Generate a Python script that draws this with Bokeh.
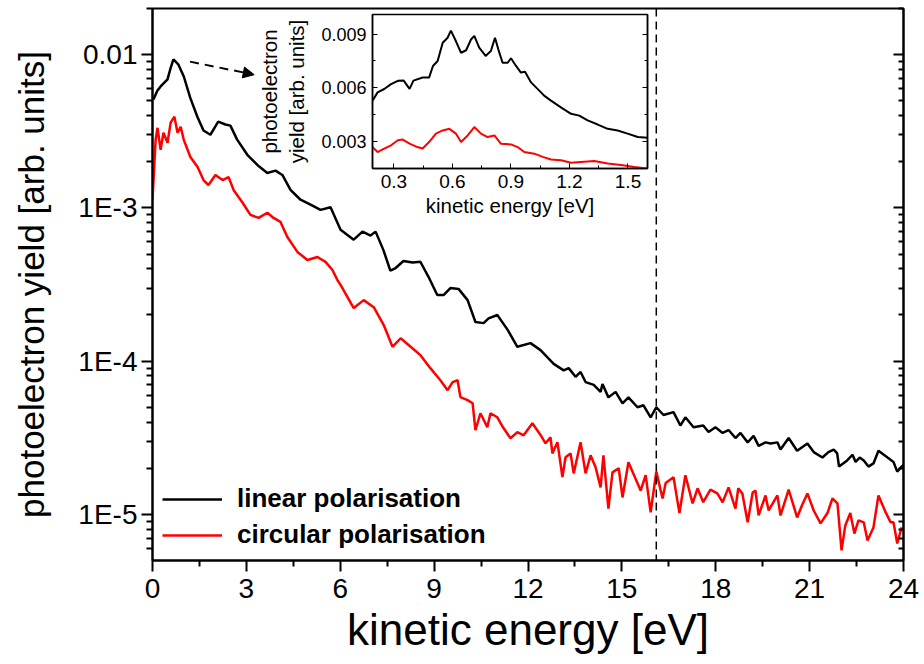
from bokeh.plotting import figure
from bokeh.models import (FixedTicker, LogAxis, LinearAxis, Span, Arrow, NormalHead,
                          CustomJSTickFormatter)
from bokeh.embed import file_html
from bokeh.resources import INLINE

# ---------------- data ----------------
LIN_X = [0.03, 0.15, 0.26, 0.48, 0.58, 0.67, 0.83, 1.0, 1.21, 1.44, 1.63, 1.85, 2.01, 2.1,
         2.33, 2.49, 2.7, 3.03, 3.36, 3.67, 3.93, 4.15, 4.41, 4.73, 5.05, 5.37, 5.69, 5.91,
         6.01, 6.43, 6.71, 6.97, 7.13, 7.38, 7.6, 7.77, 8.02, 8.31, 8.56, 8.82, 9.1, 9.3,
         9.52, 9.78, 10.07, 10.32, 10.58, 10.74, 11.02, 11.35, 11.66, 12.08, 12.4, 12.82,
         13.14, 13.3, 13.52, 13.68, 13.84, 14.1, 14.32, 14.38, 14.57, 14.8, 15.02, 15.21,
         15.5, 15.69, 15.92, 16.1, 16.33, 16.65, 16.87, 17.03, 17.29, 17.6, 17.77, 17.99,
         18.22, 18.41, 18.63, 18.79, 19.02, 19.21, 19.37, 19.59, 19.75, 19.97, 20.07, 20.33,
         20.6, 20.93, 21.13, 21.41, 21.6, 21.77, 21.88, 21.94, 22.2, 22.37, 22.47, 22.6,
         22.73, 22.88, 23.04, 23.2, 23.49, 23.68, 23.8, 23.94, 24.0]
LIN_Y = [5.1e-3, 5.8e-3, 6.2e-3, 6.9e-3, 8.2e-3, 9.3e-3, 8.6e-3, 7.2e-3, 5.2e-3, 3.9e-3,
         3.2e-3, 3.0e-3, 3.4e-3, 3.65e-3, 3.5e-3, 3.44e-3, 2.8e-3, 2.22e-3, 1.9e-3, 1.69e-3,
         1.75e-3, 1.64e-3, 1.31e-3, 1.13e-3, 1.05e-3, 9.7e-4, 1.01e-3, 8.0e-4,
         7.2e-4, 6.2e-4, 7.0e-4, 6.6e-4, 7.0e-4, 5.3e-4, 3.9e-4, 4.05e-4, 4.5e-4, 4.4e-4,
         4.45e-4, 3.55e-4, 2.7e-4, 2.7e-4, 3.0e-4, 2.96e-4, 2.5e-4, 1.8e-4, 1.77e-4,
         1.9e-4, 2.0e-4, 1.6e-4, 1.24e-4, 1.31e-4, 1.18e-4, 9.6e-5,
         8.7e-5, 9.0e-5, 7.9e-5, 8.5e-5, 7.3e-5, 7.0e-5, 6.3e-5, 7.1e-5, 5.8e-5, 6.3e-5,
         5.3e-5, 5.8e-5, 5.0e-5, 5.15e-5, 4.3e-5, 5.0e-5, 4.45e-5, 4.65e-5, 3.8e-5, 4.3e-5,
         3.7e-5, 3.8e-5, 3.45e-5, 3.7e-5, 3.4e-5, 3.55e-5, 3.15e-5, 3.4e-5, 2.95e-5, 3.25e-5,
         2.8e-5, 2.95e-5, 2.9e-5, 2.95e-5, 2.65e-5, 3.15e-5, 2.6e-5, 2.9e-5, 2.55e-5,
         2.35e-5, 2.55e-5, 2.65e-5, 2.5e-5, 2.05e-5, 2.25e-5, 2.45e-5, 2.2e-5, 2.35e-5,
         2.25e-5, 2.05e-5, 2.15e-5, 2.6e-5, 2.35e-5, 2.2e-5, 1.9e-5, 2.05e-5, 2.1e-5]

CIRC_X = [0.0, 0.1, 0.16, 0.26, 0.35, 0.48, 0.58, 0.7, 0.8, 0.9, 1.0, 1.21, 1.44, 1.63,
          1.79, 2.01, 2.24, 2.43, 2.59, 2.88, 3.13, 3.39, 3.67, 3.87, 4.09, 4.31, 4.63, 4.95,
          5.27, 5.53, 5.75, 5.91, 6.01, 6.43, 6.75, 7.07, 7.39, 7.67, 7.93, 8.25, 8.57, 8.88,
          9.2, 9.43, 9.59, 9.75, 9.84, 10.07, 10.23, 10.32, 10.48, 10.7, 10.8, 11.02, 11.2,
          11.44, 11.66, 11.86, 12.14, 12.4, 12.56, 12.72, 12.78, 12.94, 13.1, 13.2, 13.36,
          13.46, 13.68, 13.84, 14.0, 14.16, 14.32, 14.41, 14.57, 14.7, 14.9, 15.02, 15.21,
          15.43, 15.6, 15.76, 15.92, 16.1, 16.3, 16.4, 16.65, 16.84, 17.03, 17.26, 17.42,
          17.6, 17.83, 18.05, 18.22, 18.41, 18.63, 18.72, 18.85, 19.02, 19.18, 19.27, 19.37,
          19.59, 19.69, 19.97, 20.07, 20.33, 20.6, 20.76, 20.93, 21.13, 21.35, 21.57, 21.73,
          21.89, 22.02, 22.14, 22.3, 22.43, 22.56, 22.73, 22.85, 23.04, 23.2, 23.43, 23.59,
          23.68, 23.8, 23.94]
CIRC_Y = [1.13e-3, 2.78e-3, 3.33e-3, 2.39e-3, 3.09e-3, 2.66e-3, 3.6e-3, 3.94e-3, 3.09e-3,
          3.38e-3, 2.78e-3, 2.15e-3, 1.85e-3, 1.52e-3, 1.41e-3, 1.64e-3, 1.52e-3, 1.59e-3,
          1.31e-3, 1.08e-3, 9.0e-4, 8.6e-4, 9.3e-4, 8.6e-4, 8.1e-4, 6.46e-4, 5.16e-4, 4.57e-4,
          4.78e-4, 4.44e-4, 3.93e-4, 3.38e-4, 3.14e-4, 2.22e-4, 2.5e-4, 2.25e-4, 1.72e-4,
          1.24e-4, 1.41e-4, 1.24e-4, 1.09e-4, 9.0e-5, 7.5e-5, 6.46e-5, 7.3e-5, 7.5e-5, 5.82e-5,
          5.56e-5, 5.31e-5, 3.54e-5, 4.57e-5, 3.7e-5, 4.57e-5, 4.3e-5, 3.7e-5, 3.14e-5,
          3.44e-5, 3.28e-5, 3.93e-5, 3.3e-5, 2.91e-5, 3.18e-5, 2.5e-5, 2.96e-5, 1.75e-5,
          2.36e-5, 2.5e-5, 1.85e-5, 2.96e-5, 1.85e-5, 2.43e-5, 2.03e-5, 1.5e-5, 2.43e-5,
          1.09e-5, 1.88e-5, 2.0e-5, 1.29e-5, 2.19e-5, 1.72e-5, 1.43e-5, 1.8e-5, 1.03e-5,
          1.9e-5, 1.27e-5, 1.6e-5, 1.75e-5, 1.02e-5, 1.8e-5, 1.18e-5, 1.48e-5, 1.2e-5,
          1.45e-5, 1.37e-5, 1.2e-5, 1.5e-5, 1.09e-5, 1.48e-5, 1.37e-5, 8.87e-6, 1.39e-5,
          1.43e-5, 9.84e-6, 1.33e-5, 1.06e-5, 1.33e-5, 9.84e-6, 1.45e-5, 9.55e-6, 1.15e-5,
          1.37e-5, 1.06e-5, 8.73e-6, 1.02e-5, 1.27e-5, 1.18e-5, 5.82e-6, 8.47e-6, 1.02e-5,
          7.5e-6, 9.14e-6, 8.87e-6, 6.76e-6, 8.22e-6, 1.33e-5, 1.03e-5, 8.87e-6, 8.87e-6,
          6.46e-6, 8.22e-6]

INS_X = [0.19, 0.216, 0.25, 0.285, 0.32, 0.35, 0.38, 0.40, 0.447, 0.48, 0.5, 0.524, 0.55,
         0.575, 0.592, 0.618, 0.644, 0.67, 0.695, 0.712, 0.737, 0.77, 0.797, 0.818, 0.835,
         0.857, 0.883, 0.9, 0.926, 0.951, 0.972, 1.003, 1.054, 1.07, 1.105, 1.156, 1.208,
         1.25, 1.293, 1.345, 1.396, 1.447, 1.498, 1.55, 1.6]
INS_LIN = [0.00528, 0.00574, 0.00593, 0.0062, 0.00639, 0.0064, 0.00594, 0.0064, 0.00657,
           0.00657, 0.00722, 0.0075, 0.00852, 0.0088, 0.0092, 0.0086, 0.00796, 0.0081,
           0.0087, 0.0089, 0.00824, 0.00778, 0.00806, 0.0088, 0.00815, 0.0074, 0.0074,
           0.00765, 0.00722, 0.00685, 0.00689, 0.0063, 0.00574, 0.00556, 0.00528, 0.0049,
           0.00454, 0.00444, 0.00417, 0.00394, 0.0037, 0.00361, 0.00343, 0.00324, 0.0032]
INS_CX = [0.19, 0.216, 0.25, 0.285, 0.32, 0.345, 0.38, 0.42, 0.447, 0.48, 0.515, 0.55,
          0.584, 0.618, 0.644, 0.678, 0.712, 0.746, 0.78, 0.815, 0.848, 0.9, 0.934, 0.968,
          1.02, 1.063, 1.105, 1.156, 1.208, 1.259, 1.327, 1.396, 1.464, 1.532, 1.6]
INS_CIRC = [0.00268, 0.0024, 0.00259, 0.00278, 0.00306, 0.0031, 0.00287, 0.00268, 0.0026,
            0.00296, 0.00343, 0.00361, 0.0037, 0.00343, 0.00296, 0.00333, 0.0038, 0.00343,
            0.00324, 0.00333, 0.00287, 0.00283, 0.00268, 0.0024, 0.00231, 0.00213, 0.00198,
            0.00194, 0.0018, 0.00185, 0.0019, 0.00176, 0.00167, 0.00157, 0.00148]

SERIES_NAMES = ["linear polarisation", "circular polarisation"]

Y_TICKS = [1e-5, 1e-4, 1e-3, 1e-2]
Y_TICK_LABELS = ["1E-5", "1E-4", "1E-3", "0.01"]
Y_MINOR = [m * d for d in [1e-6, 1e-5, 1e-4, 1e-3, 1e-2] for m in range(2, 10)]
X_TICKS = [0, 3, 6, 9, 12, 15, 18, 21, 24]
X_MINOR = [1.5, 4.5, 7.5, 10.5, 13.5, 16.5, 19.5, 22.5]

INS_X_TICKS = [0.3, 0.6, 0.9, 1.2, 1.5]
INS_X_LABELS = ["0.3", "0.6", "0.9", "1.2", "1.5"]
INS_X_MINOR = [0.15, 0.45, 0.75, 1.05, 1.35]
INS_Y_TICKS = [0.003, 0.006, 0.009]
INS_Y_LABELS = ["0.003", "0.006", "0.009"]
INS_Y_MINOR = [0.0015, 0.0045, 0.0075]

CUTOFF_EV = 16.1
ARROW_START = (1.2, 9.0e-3)
ARROW_END = (3.25, 7.4e-3)

FONT = "Liberation Sans"

NEAREST_LOG = """
let best = 0;
for (let i = 1; i < tk.length; i++) {
  if (Math.abs(Math.log(tk[i]) - Math.log(tick)) < Math.abs(Math.log(tk[best]) - Math.log(tick))) best = i;
}
return lb[best];
"""
NEAREST_LIN = """
let best = 0;
for (let i = 1; i < tk.length; i++) {
  if (Math.abs(tk[i] - tick) < Math.abs(tk[best] - tick)) best = i;
}
return lb[best];
"""
BLANK = "return '';"

# ---------------- main figure ----------------
p = figure(frame_width=751, frame_height=552, x_range=(0, 24), y_range=(5e-6, 0.02),
           y_axis_type="log", output_backend="svg", toolbar_location=None,
           min_border_left=152, min_border_right=18, min_border_top=8, min_border_bottom=104)
p.xgrid.visible = False
p.ygrid.visible = False
p.outline_line_color = "black"
p.outline_line_width = 2
p.outline_line_alpha = 1.0

p.line(LIN_X, LIN_Y, line_color="black", line_width=2.5, legend_label=SERIES_NAMES[0])
p.line(CIRC_X, CIRC_Y, line_color="red", line_width=2.5, legend_label=SERIES_NAMES[1])

xa = p.xaxis[0]
xa.ticker = FixedTicker(ticks=X_TICKS, minor_ticks=X_MINOR)
xa.axis_label = "kinetic energy [eV]"
ya = p.yaxis[0]
ya.ticker = FixedTicker(ticks=Y_TICKS, minor_ticks=Y_MINOR)
ya.formatter = CustomJSTickFormatter(args=dict(tk=Y_TICKS, lb=Y_TICK_LABELS), code=NEAREST_LOG)
ya.axis_label = "photoelectron yield [arb. units]"

for ax in (xa, ya):
    ax.axis_line_width = 2
    ax.axis_line_color = "black"
    ax.major_tick_line_width = 2
    ax.minor_tick_line_width = 2
    ax.major_tick_line_color = "black"
    ax.minor_tick_line_color = "black"
    ax.major_tick_in = 0
    ax.major_tick_out = 11
    ax.minor_tick_in = 0
    ax.minor_tick_out = 6
    ax.major_label_text_font = FONT
    ax.major_label_text_color = "black"
    ax.axis_label_text_font = FONT
    ax.axis_label_text_font_style = "normal"
    ax.axis_label_text_color = "black"

xa.major_label_text_font_size = "28px"
xa.major_label_standoff = 7
xa.axis_label_text_font_size = "44px"
xa.axis_label_standoff = 4
ya.major_label_text_font_size = "28px"
ya.major_label_standoff = 4
ya.axis_label_text_font_size = "35px"
ya.axis_label_standoff = 24

ra = LogAxis(ticker=FixedTicker(ticks=Y_TICKS, minor_ticks=Y_MINOR),
             formatter=CustomJSTickFormatter(code=BLANK),
             major_tick_in=10, major_tick_out=0, major_label_standoff=0,
             minor_tick_in=5, minor_tick_out=0, axis_line_width=2, major_tick_line_width=2,
             minor_tick_line_width=2, axis_line_color="black")
p.add_layout(ra, "right")

lg = p.legend[0]
lg.location = "bottom_left"
lg.margin = 0
lg.padding = 10
lg.spacing = 5
lg.glyph_width = 60
lg.glyph_height = 30
lg.label_height = 30
lg.label_standoff = 15
lg.label_text_font = FONT
lg.label_text_font_style = "bold"
lg.label_text_font_size = "26px"
lg.label_text_color = "black"
lg.border_line_alpha = 0
lg.background_fill_alpha = 0

p.add_layout(Span(location=CUTOFF_EV, dimension="height", line_color="black",
                  line_width=1.5, line_dash="8 5"))
p.add_layout(Arrow(end=NormalHead(size=11, fill_color="black", line_color="black"),
                   x_start=ARROW_START[0], y_start=ARROW_START[1],
                   x_end=ARROW_END[0], y_end=ARROW_END[1],
                   line_color="black", line_width=2, line_dash="9 6"))

# ---------------- inset figure ----------------
INS_BORDER_LEFT = 120
ins = figure(frame_width=275, frame_height=154, x_range=(0.19, 1.6), y_range=(0.00148, 0.0101),
             output_backend="svg", toolbar_location=None,
             min_border_left=INS_BORDER_LEFT, min_border_right=5, min_border_top=4,
             min_border_bottom=56, border_fill_alpha=0, background_fill_color="white",
             styles={"position": "absolute", "left": f"{372 - INS_BORDER_LEFT}px",
                     "top": "10px", "z-index": "5"})
ins.xgrid.visible = False
ins.ygrid.visible = False
ins.outline_line_color = "black"
ins.outline_line_width = 1.5
ins.outline_line_alpha = 1.0

ins.line(INS_X, INS_LIN, line_color="black", line_width=2)
ins.line(INS_CX, INS_CIRC, line_color="red", line_width=2)

ixa = ins.xaxis[0]
ixa.ticker = FixedTicker(ticks=INS_X_TICKS, minor_ticks=INS_X_MINOR)
ixa.formatter = CustomJSTickFormatter(args=dict(tk=INS_X_TICKS, lb=INS_X_LABELS), code=NEAREST_LIN)
ixa.axis_label = "kinetic energy [eV]"
iya = ins.yaxis[0]
iya.ticker = FixedTicker(ticks=INS_Y_TICKS, minor_ticks=INS_Y_MINOR)
iya.formatter = CustomJSTickFormatter(args=dict(tk=INS_Y_TICKS, lb=INS_Y_LABELS), code=NEAREST_LIN)
iya.axis_label = "photoelectron\nyield [arb. units]"
for ax in (ixa, iya):
    ax.axis_line_width = 1.5
    ax.axis_line_color = "black"
    ax.major_tick_in = 5
    ax.major_tick_out = 0
    ax.minor_tick_in = 3
    ax.minor_tick_out = 0
    ax.major_tick_line_color = "black"
    ax.minor_tick_line_color = "black"
    ax.major_label_text_font = FONT
    ax.major_label_text_color = "black"
    ax.major_label_standoff = 6
    ax.axis_label_text_font = FONT
    ax.axis_label_text_font_style = "normal"
    ax.axis_label_text_font_size = "20.5px"
    ax.axis_label_text_color = "black"
ixa.major_label_text_font_size = "19px"
iya.major_label_text_font_size = "18px"
ixa.axis_label_standoff = 3
iya.axis_label_standoff = 10

ira = LinearAxis(ticker=FixedTicker(ticks=INS_Y_TICKS, minor_ticks=INS_Y_MINOR),
                 formatter=CustomJSTickFormatter(code=BLANK), major_label_standoff=0,
                 major_tick_in=5, major_tick_out=0,
                 minor_tick_in=3, minor_tick_out=0, axis_line_width=1.5, axis_line_color="black")
ins.add_layout(ira, "right")

open("out.html", "w").write(file_html([p, ins], INLINE))
